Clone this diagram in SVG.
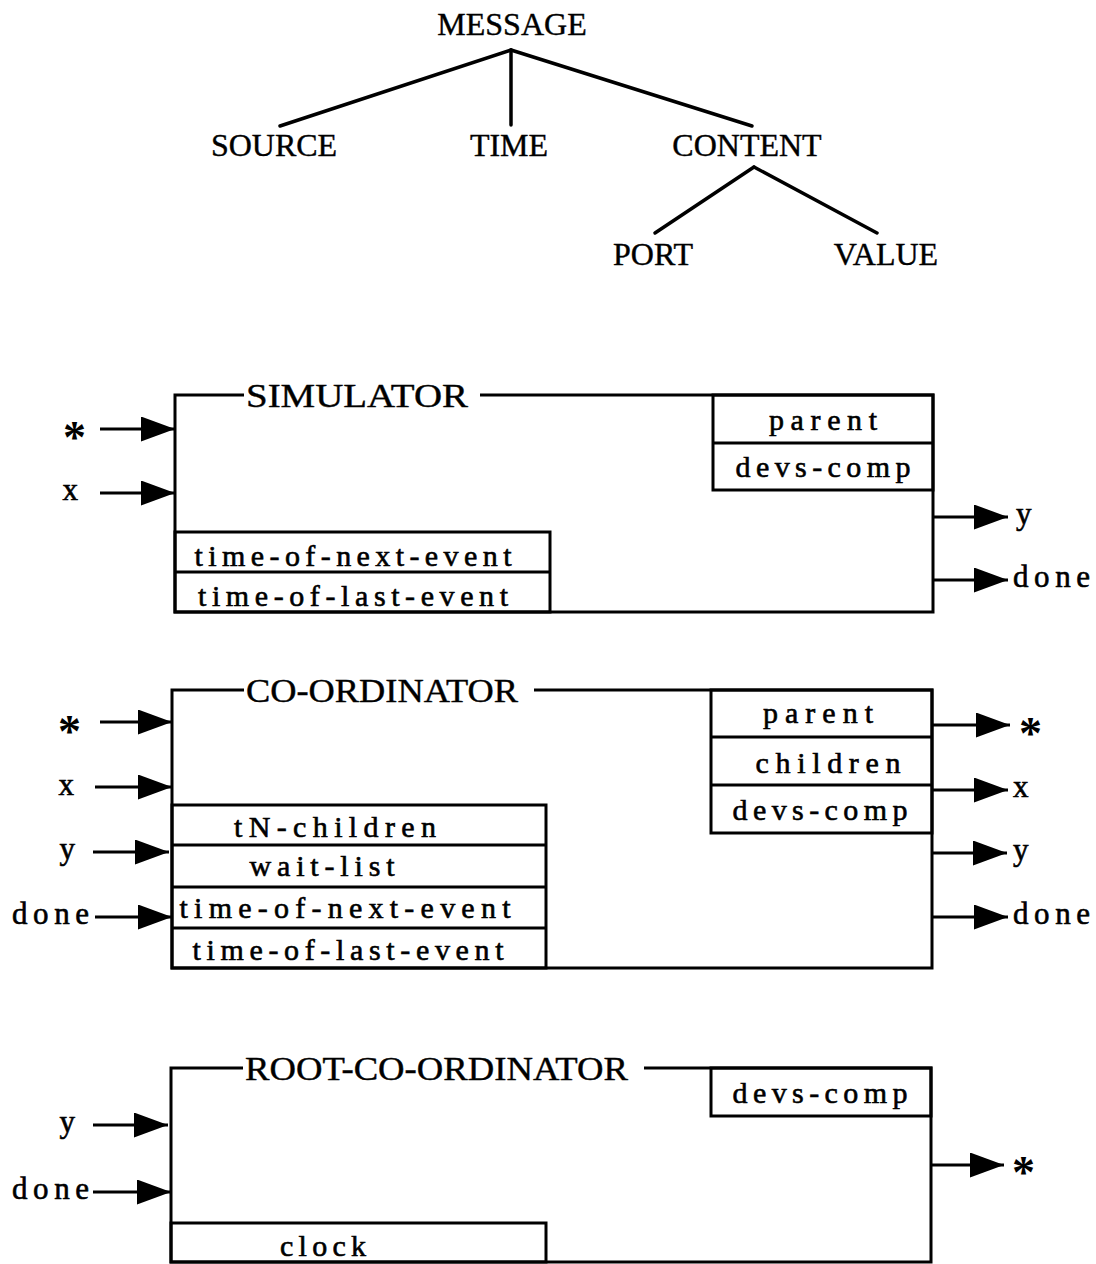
<svg xmlns="http://www.w3.org/2000/svg" width="1096" height="1264" viewBox="0 0 1096 1264">
<style>
  .ln { stroke:#000; stroke-width:3; fill:none; }
  .tl { stroke:#000; stroke-width:3.5; fill:none; stroke-linecap:round; }
  .ar { stroke:#000; stroke-width:3; fill:none; marker-end:url(#ah); }
  .tree { font-family:"Liberation Serif","Times New Roman",serif; font-size:32px; fill:#000; stroke:#000; stroke-width:0.4; text-anchor:middle; }
  .title { font-family:"Liberation Serif","Times New Roman",serif; font-size:33px; fill:#000; stroke:#000; stroke-width:0.4; }
  .fld { font-family:"Liberation Serif","Times New Roman",serif; font-size:30px; fill:#000; stroke:#000; stroke-width:0.6; text-anchor:middle; }
  .lbl { font-family:"Liberation Serif","Times New Roman",serif; font-size:31px; fill:#000; stroke:#000; stroke-width:0.6; }
  .star { font-family:"Liberation Serif","Times New Roman",serif; font-size:46px; font-weight:bold; fill:#000; }
</style>
<defs>
  <marker id="ah" markerUnits="userSpaceOnUse" markerWidth="36" markerHeight="26" refX="34" refY="12.5" orient="auto">
    <path d="M0,0 L34,12.5 L0,25 Z" fill="#000"/>
  </marker>
</defs>
<rect x="0" y="0" width="1096" height="1264" fill="#fff"/>

<g id="tree-nodes">
  <g id="n-message"><text class="tree" x="512" y="35">MESSAGE</text></g>
  <g id="n-source"><text class="tree" x="274" y="156">SOURCE</text></g>
  <g id="n-time"><text class="tree" x="509" y="156">TIME</text></g>
  <g id="n-content"><text class="tree" x="747" y="156">CONTENT</text></g>
  <g id="n-port"><text class="tree" x="653" y="265">PORT</text></g>
  <g id="n-value"><text class="tree" x="886" y="265">VALUE</text></g>
</g>

<g id="simulator">
  <path class="ln" d="M244,395 H175 V612 H933 V395 H480"/>
  <text class="title" x="246" y="407" textLength="222" lengthAdjust="spacingAndGlyphs">SIMULATOR</text>
  <rect class="ln" x="713" y="395" width="220" height="95"/>
  <line class="ln" x1="713" y1="443" x2="933" y2="443"/>
  <text class="fld" x="823" y="430" textLength="108">parent</text>
  <text class="fld" x="823" y="477" textLength="175">devs-comp</text>
  <rect class="ln" x="175" y="532" width="375" height="80"/>
  <line class="ln" x1="175" y1="572" x2="550" y2="572"/>
  <text class="fld" x="353" y="566" textLength="317">time-of-next-event</text>
  <text class="fld" x="353" y="606" textLength="310">time-of-last-event</text>
  <text class="star" x="86" y="453" text-anchor="end">*</text>
  <text class="lbl" x="78" y="500" text-anchor="end">x</text>
  <text class="lbl" x="1016" y="524">y</text>
  <text class="lbl" x="1013" y="587" textLength="77">done</text>
</g>

<g id="coordinator">
  <path class="ln" d="M244,690 H172 V968 H932 V690 H534"/>
  <text class="title" x="246" y="702" textLength="272" lengthAdjust="spacingAndGlyphs">CO-ORDINATOR</text>
  <rect class="ln" x="711" y="690" width="221" height="143"/>
  <line class="ln" x1="711" y1="737" x2="932" y2="737"/>
  <line class="ln" x1="711" y1="785" x2="932" y2="785"/>
  <text class="fld" x="818" y="723" textLength="110">parent</text>
  <text class="fld" x="828" y="773" textLength="145">children</text>
  <text class="fld" x="820" y="820" textLength="175">devs-comp</text>
  <rect class="ln" x="172" y="805" width="374" height="163"/>
  <line class="ln" x1="172" y1="845" x2="546" y2="845"/>
  <line class="ln" x1="172" y1="887" x2="546" y2="887"/>
  <line class="ln" x1="172" y1="928" x2="546" y2="928"/>
  <text class="fld" x="335" y="837" textLength="202">tN-children</text>
  <text class="fld" x="322" y="876" textLength="145">wait-list</text>
  <text class="fld" x="345" y="918" textLength="331">time-of-next-event</text>
  <text class="fld" x="348" y="960" textLength="311">time-of-last-event</text>
  <text class="star" x="81" y="747" text-anchor="end">*</text>
  <text class="lbl" x="74" y="795" text-anchor="end">x</text>
  <text class="lbl" x="75" y="859" text-anchor="end">y</text>
  <text class="lbl" x="89" y="924" text-anchor="end" textLength="77">done</text>
  <text class="star" x="1019" y="749">*</text>
  <text class="lbl" x="1013" y="797">x</text>
  <text class="lbl" x="1013" y="860">y</text>
  <text class="lbl" x="1013" y="924" textLength="77">done</text>
</g>

<g id="root-coordinator">
  <path class="ln" d="M243,1068 H171 V1262 H931 V1068 H644"/>
  <text class="title" x="245" y="1080" textLength="383" lengthAdjust="spacingAndGlyphs">ROOT-CO-ORDINATOR</text>
  <rect class="ln" x="711" y="1068" width="220" height="48"/>
  <text class="fld" x="820" y="1103" textLength="175">devs-comp</text>
  <rect class="ln" x="171" y="1223" width="375" height="39"/>
  <text class="fld" x="323" y="1256" textLength="86">clock</text>
  <text class="lbl" x="75" y="1132" text-anchor="end">y</text>
  <text class="lbl" x="89" y="1199" text-anchor="end" textLength="77">done</text>
  <text class="star" x="1012" y="1188">*</text>
</g>

<g id="connectors">
  <line class="tl" x1="511" y1="50" x2="280" y2="126"/>
  <line class="tl" x1="511" y1="50" x2="511" y2="125"/>
  <line class="tl" x1="511" y1="50" x2="752" y2="126"/>
  <line class="tl" x1="754" y1="167" x2="655" y2="233"/>
  <line class="tl" x1="754" y1="167" x2="877" y2="233"/>

  <line class="ar" x1="100" y1="429" x2="175" y2="429"/>
  <line class="ar" x1="100" y1="493" x2="175" y2="493"/>
  <line class="ar" x1="933" y1="517" x2="1008" y2="517"/>
  <line class="ar" x1="933" y1="580" x2="1008" y2="580"/>

  <line class="ar" x1="100" y1="722" x2="172" y2="722"/>
  <line class="ar" x1="95" y1="787" x2="172" y2="787"/>
  <line class="ar" x1="93" y1="852" x2="169" y2="852"/>
  <line class="ar" x1="95" y1="917" x2="172" y2="917"/>
  <line class="ar" x1="932" y1="725" x2="1010" y2="725"/>
  <line class="ar" x1="932" y1="790" x2="1008" y2="790"/>
  <line class="ar" x1="932" y1="853" x2="1007" y2="853"/>
  <line class="ar" x1="932" y1="917" x2="1008" y2="917"/>

  <line class="ar" x1="93" y1="1125" x2="168" y2="1125"/>
  <line class="ar" x1="93" y1="1192" x2="171" y2="1192"/>
  <line class="ar" x1="931" y1="1165" x2="1004" y2="1165"/>
</g>
</svg>
